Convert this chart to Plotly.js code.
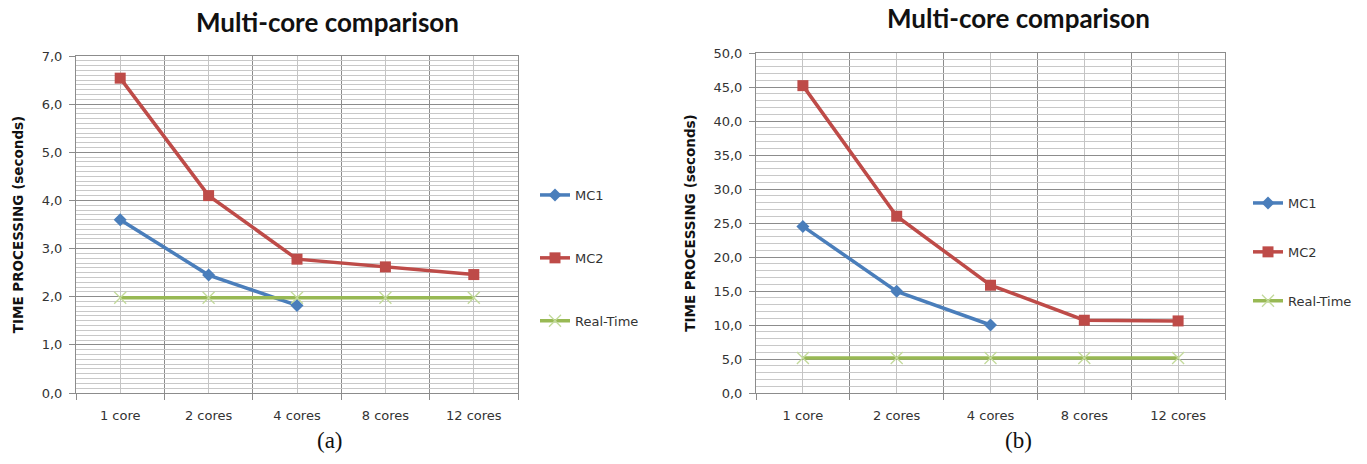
<!DOCTYPE html>
<html>
<head>
<meta charset="utf-8">
<script src="https://cdn.plot.ly/plotly-3.0.1.min.js"></script>
<style>html,body{margin:0;padding:0;background:#fff;}#chart{width:1367px;height:464px;}</style>
</head>
<body>
<div id="chart"></div>
<script>
// ---- data ----
const categories = ["1 core", "2 cores", "4 cores", "8 cores", "12 cores"];
const seriesNames = ["MC1", "MC2", "Real-Time"];

// chart (a)
const mc1A = [3.60, 2.45, 1.82];
const mc2A = [6.54, 4.10, 2.78, 2.62, 2.46];
const rtA  = [1.98, 1.98, 1.98, 1.98, 1.98];

// chart (b)
const mc1B = [24.5, 14.95, 10.0];
const mc2B = [45.2, 26.0, 15.85, 10.7, 10.6];
const rtB  = [5.15, 5.15, 5.15, 5.15, 5.15];

const chartTitle = "Multi-core comparison";
const yTitle = "TIME PROCESSING (seconds)";
const captions = ["(a)", "(b)"];

// ---- styling ----
const W = 1367, H = 464;
const colors = {MC1: "#4A7EBB", MC2: "#BE4B48", "Real-Time": "#98B954"};
const tickFont = {family: "DejaVu Sans, Verdana, sans-serif", size: 13, color: "#333"};
const idx = categories.map((c, i) => i);

function mkTraces(mc1, mc2, rt, xa, ya, leg) {
  return [
    {x: idx.slice(0, mc1.length), y: mc1, name: seriesNames[0], xaxis: xa, yaxis: ya, legend: leg,
     legendgroup: leg + "a", mode: "lines+markers", line: {color: colors.MC1, width: 3.5},
     marker: {symbol: "diamond", size: 10, color: colors.MC1}},
    {x: idx.slice(0, mc2.length), y: mc2, name: seriesNames[1], xaxis: xa, yaxis: ya, legend: leg,
     legendgroup: leg + "b", mode: "lines+markers", line: {color: colors.MC2, width: 3.5},
     marker: {symbol: "square", size: 11, color: colors.MC2}},
    {x: idx.slice(0, rt.length), y: rt, name: seriesNames[2], xaxis: xa, yaxis: ya, legend: leg,
     legendgroup: leg + "c", mode: "lines+markers", line: {color: colors["Real-Time"], width: 3.5},
     marker: {symbol: "x-thin-open", size: 12, color: "#C3DA9B", line: {width: 1.3, color: "#C3DA9B"}}}
  ];
}

const traces = [
  ...mkTraces(mc1A, mc2A, rtA, "x", "y", "legend"),
  ...mkTraces(mc1B, mc2B, rtB, "x2", "y2", "legend2")
];

function xAxis(domain, anchor) {
  return {
    domain: domain, anchor: anchor, range: [-0.5, categories.length - 0.5],
    tickmode: "array", tickvals: idx, ticktext: categories, ticks: "",
    showgrid: true, gridcolor: "#c4c4c4", gridwidth: 1,
    minor: {tick0: -0.5, dtick: 1, showgrid: true, gridcolor: "#8c8c8c", gridwidth: 1,
            ticks: "outside", ticklen: 6, tickcolor: "#8c8c8c"},
    showline: true, linecolor: "#8c8c8c", linewidth: 1, mirror: true,
    zeroline: false, tickfont: tickFont, ticklabelstandoff: 10, fixedrange: true
  };
}
function yAxis(domain, anchor, max, dt, mdt) {
  return {
    domain: domain, anchor: anchor, range: [0, max], dtick: dt, tick0: 0,
    tickformat: ".1f", ticks: "outside", ticklen: 6, tickcolor: "#8c8c8c",
    showgrid: true, gridcolor: "#8c8c8c", gridwidth: 1,
    minor: {dtick: mdt, showgrid: true, gridcolor: "#c8c8c8", gridwidth: 1},
    showline: true, linecolor: "#8c8c8c", linewidth: 1, mirror: true,
    zeroline: false, tickfont: tickFont, ticklabelstandoff: 4,
    title: {text: yTitle, font: {family: "DejaVu Sans, sans-serif", size: 13.5, color: "#111", weight: "bold"}, standoff: 14},
    fixedrange: true
  };
}

const layout = {
  width: W, height: H, autosize: false,
  margin: {l: 0, r: 0, t: 0, b: 0},
  paper_bgcolor: "#fff", plot_bgcolor: "#fff",
  separators: ", ",
  showlegend: true,
  xaxis: xAxis([76 / W, 518 / W], "y"),
  yaxis: yAxis([1 - 393 / H, 1 - 56 / H], "x", 7, 1, 0.1),
  xaxis2: xAxis([756 / W, 1225 / W], "y2"),
  yaxis2: yAxis([1 - 393 / H, 1 - 53 / H], "x2", 50, 5, 1),
  legend: {x: 535 / W, xanchor: "left", y: 1 - 180 / H, yanchor: "top",
           traceorder: "grouped", tracegroupgap: 43, bgcolor: "rgba(0,0,0,0)",
           font: {family: "DejaVu Sans, sans-serif", size: 13, color: "#333"}},
  legend2: {x: 1248 / W, xanchor: "left", y: 1 - 188 / H, yanchor: "top",
           traceorder: "grouped", tracegroupgap: 29, bgcolor: "rgba(0,0,0,0)",
           font: {family: "DejaVu Sans, sans-serif", size: 13, color: "#333"}},
  annotations: [
    {text: chartTitle, x: 327 / W, y: 1 - 22 / H, xref: "paper", yref: "paper", xanchor: "center", yanchor: "middle",
     showarrow: false, font: {family: "Lato, sans-serif", size: 26, color: "#111", weight: "bold"}},
    {text: chartTitle, x: 1018 / W, y: 1 - 18 / H, xref: "paper", yref: "paper", xanchor: "center", yanchor: "middle",
     showarrow: false, font: {family: "Lato, sans-serif", size: 26, color: "#111", weight: "bold"}},
    {text: captions[0], x: 330 / W, y: 1 - 440 / H, xref: "paper", yref: "paper", xanchor: "center", yanchor: "middle",
     showarrow: false, font: {family: "Liberation Serif, serif", size: 23, color: "#111"}},
    {text: captions[1], x: 1018 / W, y: 1 - 440 / H, xref: "paper", yref: "paper", xanchor: "center", yanchor: "middle",
     showarrow: false, font: {family: "Liberation Serif, serif", size: 23, color: "#111"}}
  ]
};

Plotly.newPlot("chart", traces, layout, {displayModeBar: false, staticPlot: true});
</script>
</body>
</html>
